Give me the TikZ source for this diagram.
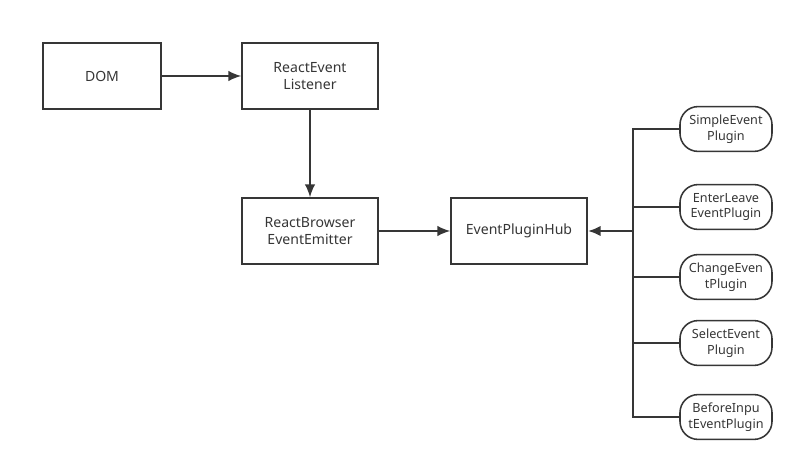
\documentclass[tikz,border=0pt]{standalone}
\usepackage{fontspec}
\setmainfont{Noto Sans}
\usepackage{xcolor}
\usetikzlibrary{arrows.meta, positioning}
\definecolor{ink}{HTML}{363636}
\begin{document}
\begin{tikzpicture}[
    box/.style={draw=ink, line width=1.1pt, rectangle, minimum width=3.4cm, minimum height=1.65cm, font=\normalsize, text=ink, align=center},
    plugin/.style={draw=ink, line width=1.1pt, rectangle, rounded corners=0.45cm, minimum width=2.3cm, minimum height=1.12cm, font=\small, text=ink, align=center, inner sep=1pt},
    flow/.style={draw=ink, line width=1.1pt, -{Latex[length=0.32cm, width=0.26cm]}},
    bus/.style={draw=ink, line width=1.1pt}
]
    \useasboundingbox (0,0) rectangle (20,-11.7);

    % Main chain
    \node[box, minimum width=2.95cm] (dom) at (2.55, -1.9) {DOM};
    \node[box] (listener) at (7.75, -1.9) {ReactEvent\\Listener};
    \node[box] (emitter) at (7.75, -5.775) {ReactBrowser\\EventEmitter};
    \node[box] (hub) at (12.975, -5.775) {EventPluginHub};

    % Plugins
    \node[plugin] (simple) at (18.15, -3.225) {SimpleEvent\\Plugin};
    \node[plugin] (enterleave) at (18.15, -5.175) {EnterLeave\\EventPlugin};
    \node[plugin] (change) at (18.15, -6.925) {ChangeEven\\tPlugin};
    \node[plugin] (select) at (18.15, -8.575) {SelectEvent\\Plugin};
    \node[plugin] (beforeinput) at (18.15, -10.425) {BeforeInpu\\tEventPlugin};

    \coordinate (join) at (15.825, -5.775);

    % Arrows
    \draw[flow] (dom) -- (listener);
    \draw[flow] (listener) -- (emitter);
    \draw[flow] (emitter) -- (hub);
    \draw[flow, line width=1.9pt] (join) -- (hub);

    % Bus to the plugins
    \draw[bus] (simple.west) -- (simple.west -| join) -- (beforeinput.west -| join) -- (beforeinput.west);
    \draw[bus] (enterleave.west) -- (enterleave.west -| join);
    \draw[bus] (change.west) -- (change.west -| join);
    \draw[bus] (select.west) -- (select.west -| join);

\end{tikzpicture}
\end{document}
